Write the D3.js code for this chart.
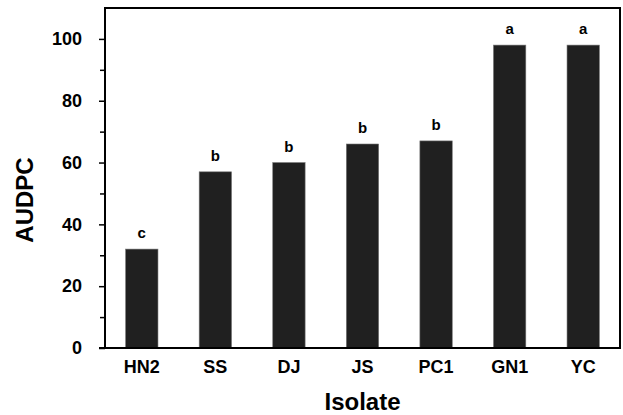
<!DOCTYPE html>
<html><head><meta charset="utf-8">
<script src="https://cdn.jsdelivr.net/npm/d3@7"></script>
<style>body{margin:0;background:#fff}svg{display:block}text{font-family:"Liberation Sans",Arial,sans-serif;font-weight:bold}</style>
</head><body><svg id="c" width="623" height="415"></svg>
<script>
const categories = ["HN2","SS","DJ","JS","PC1","GN1","YC"];
const values = [32,57,60,66,67,98,98];
const letters = ["c","b","b","b","b","a","a"];
const yTicks = [0,20,40,60,80,100];
const yMinor = [10,30,50,70,90];

const svg = d3.select("#c");
const m = {l:105, r:620, t:8, b:348};
const x = d3.scaleBand().domain(categories).range([m.l, m.r]).paddingInner(0.56).paddingOuter(0.28);
const y = d3.scaleLinear().domain([0,110]).range([m.b, m.t]);

// bars
svg.selectAll("rect.bar").data(values).join("rect").attr("class","bar")
  .attr("x",(d,i)=>x(categories[i])).attr("width",x.bandwidth())
  .attr("y",d=>y(d)).attr("height",d=>y(0)-y(d))
  .attr("fill","#202020").attr("stroke","#777").attr("stroke-width",0.6);

// letters
svg.selectAll("text.lt").data(values).join("text").attr("class","lt")
  .attr("x",(d,i)=>x(categories[i])+x.bandwidth()/2).attr("y",d=>y(d)-11)
  .attr("text-anchor","middle").attr("font-size",15).text((d,i)=>letters[i]);

// frame
svg.append("rect").attr("x",m.l).attr("y",m.t).attr("width",m.r-m.l).attr("height",m.b-m.t)
  .attr("fill","none").attr("stroke","#000").attr("stroke-width",2);

// y axis
const ya = d3.axisLeft(y).tickValues(yTicks).tickSize(6).tickPadding(17);
const gy = svg.append("g").attr("transform",`translate(${m.l},0)`).call(ya);
gy.select(".domain").remove();
gy.selectAll(".tick line").attr("stroke","#000").attr("stroke-width",1.5);
gy.selectAll(".tick text").attr("font-size",18).attr("font-family","Liberation Sans, Arial").attr("font-weight","bold").attr("fill","#000");
const yam = d3.axisLeft(y).tickValues(yMinor).tickSize(5).tickFormat("");
const gym = svg.append("g").attr("transform",`translate(${m.l},0)`).call(yam);
gym.select(".domain").remove();
gym.selectAll(".tick line").attr("stroke","#000").attr("stroke-width",1.5);

// x axis
const xa = d3.axisBottom(x).tickSize(0).tickPadding(12);
const gx = svg.append("g").attr("transform",`translate(0,${m.b})`).call(xa);
gx.select(".domain").remove();
gx.selectAll(".tick text").attr("font-size",18).attr("font-family","Liberation Sans, Arial").attr("font-weight","bold").attr("fill","#000");
svg.append("line").attr("x1",m.l-6).attr("x2",m.r).attr("y1",m.b).attr("y2",m.b).attr("stroke","#000").attr("stroke-width",2);

// titles
svg.append("text").attr("x",(m.l+m.r)/2).attr("y",410).attr("text-anchor","middle").attr("font-size",24).text("Isolate");
svg.append("text").attr("transform",`translate(33,200) rotate(-90)`).attr("text-anchor","middle").attr("font-size",24).text("AUDPC");
</script></body></html>
